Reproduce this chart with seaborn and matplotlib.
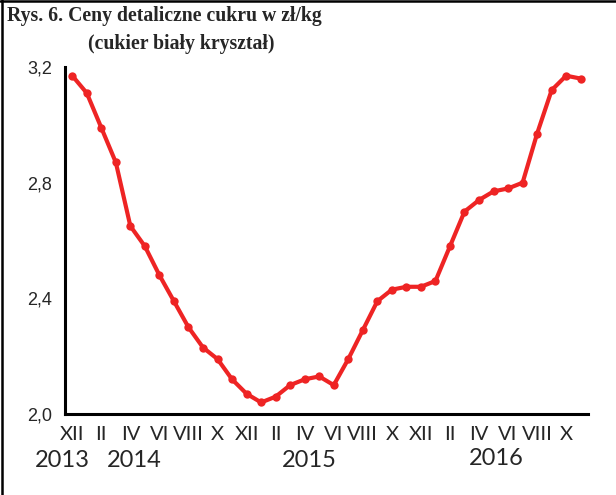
import matplotlib
matplotlib.use("Agg")
import matplotlib.pyplot as plt
from matplotlib.lines import Line2D
import seaborn as sns
import pandas as pd
import numpy as np

# Monthly retail price of white sugar, XII 2013 - XI 2016 (zł/kg)
months = ["XII", "I", "II", "III", "IV", "V", "VI", "VII", "VIII", "IX", "X", "XI",
          "XII", "I", "II", "III", "IV", "V", "VI", "VII", "VIII", "IX", "X", "XI",
          "XII", "I", "II", "III", "IV", "V", "VI", "VII", "VIII", "IX", "X", "XI"]
prices = [3.17, 3.11, 2.99, 2.87, 2.65, 2.58, 2.48, 2.39, 2.30, 2.23, 2.19, 2.12,
          2.07, 2.04, 2.06, 2.10, 2.12, 2.13, 2.10, 2.19, 2.29, 2.39, 2.43, 2.44,
          2.44, 2.46, 2.58, 2.70, 2.74, 2.77, 2.78, 2.80, 2.97, 3.12, 3.17, 3.16]
years = ["2013", "2014", "2015", "2016"]
year_pos = [-0.7, 4.3, 16.3, 29.2]
y_ticks = [2.0, 2.4, 2.8, 3.2]

df = pd.DataFrame({"idx": np.arange(len(prices)), "price": prices})

sns.set_theme(style="white")
fig = plt.figure(figsize=(6.16, 4.95), dpi=100)
ax = fig.add_axes([0.1055, 0.1636, 0.849, 0.701])

sns.lineplot(data=df, x="idx", y="price", ax=ax, color="#EE2424",
             linewidth=3.0, marker="o", markersize=6, markeredgewidth=0)

ax.set_xlim(-0.5, len(prices) - 0.5)
ax.set_ylim(2.0, 3.2)
ax.set_xlabel("")
ax.set_ylabel("")

for s in ["top", "right"]:
    ax.spines[s].set_visible(False)
for s in ["left", "bottom"]:
    ax.spines[s].set_color("black")
    ax.spines[s].set_linewidth(2.2)

ax.set_yticks(y_ticks)
ax.set_yticklabels([f"{v:.1f}".replace(".", ",") for v in y_ticks],
                   fontsize=13, family="Liberation Sans")
ax.tick_params(axis="y", direction="out", length=5, width=1.2, color="black", pad=4)

# Month boundaries as ticks, labels every second month
ax.set_xticks(np.arange(-0.5, len(prices)), minor=False)
ax.set_xticklabels([])
ax.tick_params(axis="x", direction="out", length=5, width=1.2, color="black")
for i in range(0, len(months), 2):
    ax.text(i, -0.06, months[i], transform=ax.get_xaxis_transform(),
            ha="center", va="center", fontsize=14.5, family="Lato")
for yr, xp in zip(years, year_pos):
    ax.text(xp, -0.135 if yr != "2016" else -0.128, yr,
            transform=ax.get_xaxis_transform(),
            ha="center", va="center", fontsize=17, family="Lato")

fig.text(7 / 616, 1 - 16 / 495, "Rys. 6. Ceny detaliczne cukru w zł/kg",
         ha="left", va="center", fontsize=14.2, fontweight="bold",
         family="Liberation Serif")
fig.text(88 / 616, 1 - 44 / 495, "(cukier biały kryształ)",
         ha="left", va="center", fontsize=14.2, fontweight="bold",
         family="Liberation Serif")

# frame lines along top and left edge
fig.add_artist(Line2D([2.5 / 616, 2.5 / 616], [0, 1], transform=fig.transFigure,
                      color="black", linewidth=1.8))
fig.add_artist(Line2D([0, 1], [1 - 1 / 495, 1 - 1 / 495], transform=fig.transFigure,
                      color="black", linewidth=1.8))

fig.savefig("out.png", dpi=100)
